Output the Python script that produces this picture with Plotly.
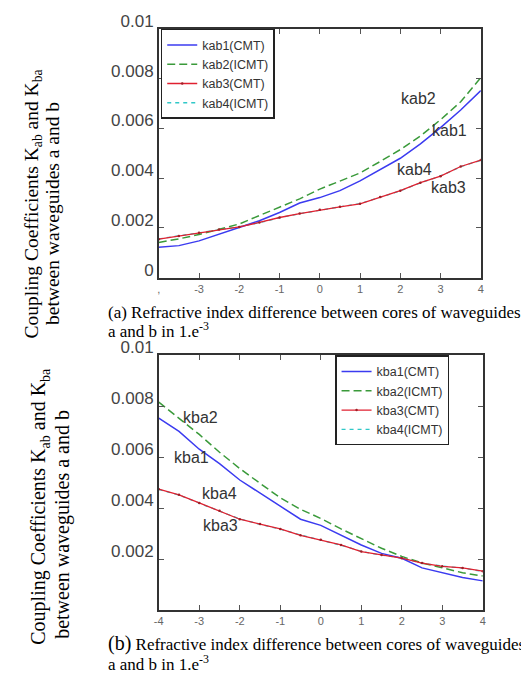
import plotly.graph_objects as go

# refractive index difference (1e-3), shared x for both panels
x_vals = [-4, -3.5, -3, -2.5, -2, -1.5, -1, -0.5, 0, 0.5, 1, 1.5, 2, 2.5, 3, 3.5, 4]

# panel (a) coupling coefficients kab
kab1 = [0.00122, 0.00129, 0.00148, 0.00174, 0.00200, 0.00229, 0.00262, 0.00300, 0.00322,
        0.00350, 0.00389, 0.00434, 0.00480, 0.00538, 0.00603, 0.00674, 0.00752]
kab2 = [0.00142, 0.00156, 0.00174, 0.00194, 0.00216, 0.00250, 0.00285, 0.00317, 0.00356,
        0.00389, 0.00421, 0.00467, 0.00515, 0.00570, 0.00635, 0.00707, 0.00804]
kab3 = [0.00155, 0.00168, 0.00181, 0.00194, 0.00204, 0.00222, 0.00242, 0.00258, 0.00273,
        0.00285, 0.00297, 0.00324, 0.00350, 0.00382, 0.00408, 0.00447, 0.00473]
kab4 = [0.00156, 0.00168, 0.00180, 0.00193, 0.00205, 0.00221, 0.00241, 0.00257, 0.00272,
        0.00285, 0.00298, 0.00323, 0.00349, 0.00381, 0.00409, 0.00446, 0.00472]

# panel (b) coupling coefficients kba
kba1 = [0.00754, 0.00702, 0.00632, 0.00575, 0.00511, 0.00460, 0.00409, 0.00357, 0.00333,
        0.00294, 0.00256, 0.00223, 0.00204, 0.00166, 0.00147, 0.00128, 0.00115]
kba2 = [0.00817, 0.00754, 0.00690, 0.00620, 0.00556, 0.00498, 0.00441, 0.00396, 0.00360,
        0.00319, 0.00281, 0.00243, 0.00211, 0.00185, 0.00166, 0.00147, 0.00134]
kba3 = [0.00475, 0.00453, 0.00421, 0.00390, 0.00357, 0.00338, 0.00319, 0.00294, 0.00276,
        0.00256, 0.00230, 0.00217, 0.00204, 0.00185, 0.00172, 0.00166, 0.00153]
kba4 = [0.00474, 0.00452, 0.00420, 0.00389, 0.00358, 0.00337, 0.00318, 0.00295, 0.00275,
        0.00255, 0.00231, 0.00216, 0.00205, 0.00184, 0.00173, 0.00165, 0.00152]

x_ticks = [-4, -3, -2, -1, 0, 1, 2, 3, 4]
x_ticktext_a = [",", "-3", "-2", "-1", "0", "1", "2", "3", "4"]
x_ticktext_b = ["-4", "-3", "-2", "-1", "0", "1", "2", "3", "4"]
y_ticks_a = [0, 0.002, 0.004, 0.006, 0.008, 0.01]
y_ticktext_a = ["0", "0.002", "0.004", "0.006", "0.008", "0.01"]
y_ticks_b = [0.002, 0.004, 0.006, 0.008, 0.01]
y_ticktext_b = ["0.002", "0.004", "0.006", "0.008", "0.01"]

BLUE = "#3b3bf0"
GREEN = "#3a9a3a"
RED = "#e02030"
CYAN = "#30c8c8"

fig = go.Figure()


def add_panel(xa, ya, legend, names, series):
    s1, s2, s3, s4 = series
    # kab4/kba4 drawn first so the red CMT curve sits on top of it
    fig.add_trace(go.Scatter(x=x_vals, y=s4, name=names[3], mode="lines", xaxis=xa, yaxis=ya,
                             legend=legend, legendrank=4,
                             line=dict(color=CYAN, width=1.3, dash="4px,4px")))
    fig.add_trace(go.Scatter(x=x_vals, y=s1, name=names[0], mode="lines", xaxis=xa, yaxis=ya,
                             legend=legend, legendrank=1,
                             line=dict(color=BLUE, width=1.5)))
    fig.add_trace(go.Scatter(x=x_vals, y=s2, name=names[1], mode="lines", xaxis=xa, yaxis=ya,
                             legend=legend, legendrank=2,
                             line=dict(color=GREEN, width=1.5, dash="8px,4px")))
    fig.add_trace(go.Scatter(x=x_vals, y=s3, name=names[2], mode="lines+markers", xaxis=xa, yaxis=ya,
                             legend=legend, legendrank=3,
                             line=dict(color=RED, width=1.3),
                             marker=dict(color="#a02028", size=2.5)))


add_panel("x", "y", "legend", ["kab1(CMT)", "kab2(ICMT)", "kab3(CMT)", "kab4(ICMT)"],
          [kab1, kab2, kab3, kab4])
add_panel("x2", "y2", "legend2", ["kba1(CMT)", "kba2(ICMT)", "kba3(CMT)", "kba4(ICMT)"],
          [kba1, kba2, kba3, kba4])

W, H = 529, 679
OFF = 8  # page body margin of the html file


def px(v):
    return (v - OFF) / W


def py(v):
    return 1 - (v - OFF) / H


axis_common = dict(showline=True, linecolor="#333", linewidth=1.5, mirror="ticks",
                   ticks="inside", ticklen=5, tickcolor="#555", showgrid=False, zeroline=False)

fig.update_layout(
    width=W, height=H,
    margin=dict(l=0, r=0, t=0, b=0),
    paper_bgcolor="white", plot_bgcolor="white",
    font=dict(family="Liberation Sans, Arial", color="#333"),
    xaxis=dict(domain=[px(156), px(483)], range=[-4, 4], anchor="y",
               tickvals=x_ticks, ticktext=x_ticktext_a,
               tickfont=dict(size=11, color="#666"), **axis_common),
    yaxis=dict(domain=[py(268), py(12)], range=[0, 0.01], anchor="x",
               tickvals=y_ticks_a, ticktext=y_ticktext_a, ticklabelshift=-8,
               tickfont=dict(size=17, color="#444"), **axis_common),
    xaxis2=dict(domain=[px(156), px(485)], range=[-4, 4], anchor="y2",
                tickvals=x_ticks, ticktext=x_ticktext_b,
                tickfont=dict(size=11, color="#666"), **axis_common),
    yaxis2=dict(domain=[py(610), py(348)], range=[0, 0.01], anchor="x2",
                tickvals=y_ticks_b, ticktext=y_ticktext_b, ticklabelshift=-8,
                tickfont=dict(size=17, color="#444"), **axis_common),
    legend=dict(x=px(158), y=py(12), xanchor="left", yanchor="top",
                bgcolor="white", bordercolor="#222", borderwidth=1.5,
                font=dict(size=12.5, color="#333"), itemwidth=30, tracegroupgap=0),
    legend2=dict(x=px(335), y=py(348), xanchor="left", yanchor="top",
                 bgcolor="white", bordercolor="#222", borderwidth=1.5,
                 font=dict(size=12.5, color="#333"), itemwidth=30, tracegroupgap=0),
    showlegend=True,
)

# curve labels
label_font = dict(family="Liberation Sans, Arial", size=16, color="#333")
for txt, xx, yy, xr, yr in [
    ("kab2", 2.45, 0.00721, "x", "y"),
    ("kab1", 3.23, 0.00593, "x", "y"),
    ("kab4", 2.35, 0.00433, "x", "y"),
    ("kab3", 3.20, 0.00363, "x", "y"),
    ("kba2", -2.98, 0.00755, "x2", "y2"),
    ("kba1", -3.20, 0.00598, "x2", "y2"),
    ("kba4", -2.49, 0.00460, "x2", "y2"),
    ("kba3", -2.47, 0.00333, "x2", "y2"),
]:
    fig.add_annotation(text=txt, x=xx, y=yy, xref=xr, yref=yr, showarrow=False, font=label_font)

# captions
serif = "Liberation Serif, Times New Roman"
captions = [
    ("(a) Refractive index difference between cores of waveguides", 102, 304, 17),
    ("a and b in 1.e<sup>-3</sup>", 102, 322, 17),
    ("<span style='font-size:20px'>(b)</span> Refractive index difference between cores of waveguides", 102, 644, 17),
    ("a and b in 1.e<sup>-3</sup>", 102, 664, 17),
]
for txt, x0, y0, fs in captions:
    fig.add_annotation(text=txt, x=px(x0), y=py(y0), xref="paper", yref="paper",
                       xanchor="left", yanchor="middle", showarrow=False,
                       font=dict(family=serif, size=fs, color="black"))

# rotated y titles
ytitles = [
    ("Coupling Coefficients K<sub>ab</sub> and K<sub>ba</sub>", 28, 192, 19.5),
    ("between waveguides a and b", 48, 202, 19.5),
    ("Coupling Coefficients K<sub>ab</sub> and K<sub>ba</sub>", 35, 503, 20),
    ("between waveguides a and b", 58, 522, 20),
]
for txt, x0, y0, fs in ytitles:
    fig.add_annotation(text=txt, x=px(x0), y=py(y0), xref="paper", yref="paper",
                       xanchor="center", yanchor="middle", textangle=-90, showarrow=False,
                       font=dict(family=serif, size=fs, color="black"))

fig.write_html("out.html")
